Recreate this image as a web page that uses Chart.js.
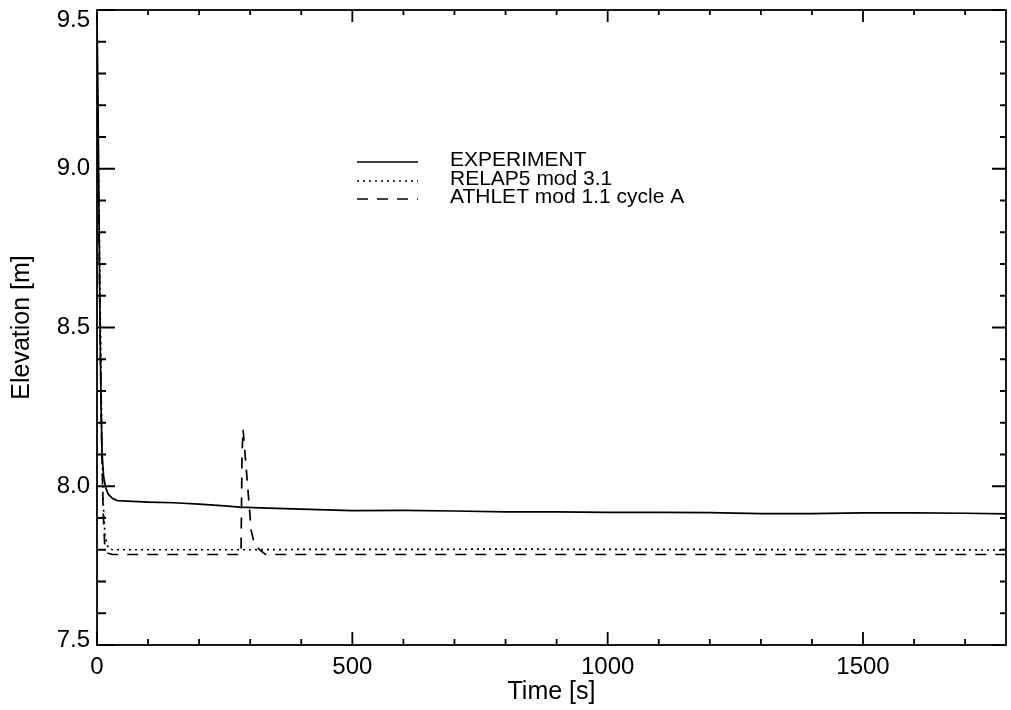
<!DOCTYPE html>
<html>
<head>
<meta charset="utf-8">
<script src="https://cdn.jsdelivr.net/npm/chart.js@4.4.1/dist/chart.umd.min.js"></script>
<style>
  html, body { margin: 0; padding: 0; background: #fff; }
  #wrap { width: 1011px; height: 710px; }
</style>
</head>
<body>
<div id="wrap"><canvas id="c" width="1011" height="710"></canvas></div>
<script>
// values
const expTime = [0, 2, 4, 6, 8, 10, 13, 17, 22, 30, 40, 60, 100, 150, 200, 250, 280, 320, 400, 500, 600, 700, 800, 900, 1000, 1100, 1200, 1300, 1400, 1500, 1600, 1700, 1780];
const expElev = [9.48, 9.20, 8.85, 8.50, 8.25, 8.10, 8.03, 7.995, 7.975, 7.962, 7.955, 7.953, 7.950, 7.948, 7.944, 7.938, 7.934, 7.932, 7.928, 7.923, 7.924, 7.922, 7.919, 7.919, 7.918, 7.918, 7.917, 7.914, 7.914, 7.916, 7.916, 7.915, 7.913];

const relapTime = [0, 3, 6, 9, 12, 16, 22, 30, 100, 200, 300, 400, 600, 800, 1000, 1200, 1400, 1600, 1780];
const relapElev = [9.40, 9.00, 8.60, 8.20, 7.95, 7.84, 7.805, 7.800, 7.800, 7.800, 7.800, 7.801, 7.801, 7.802, 7.801, 7.801, 7.800, 7.800, 7.799];

const athletTime = [0, 3, 6, 9, 12, 15, 20, 30, 100, 200, 282, 284, 286, 295, 302, 308, 318, 330, 400, 800, 1200, 1780];
const athletElev = [9.30, 8.90, 8.50, 8.15, 7.92, 7.82, 7.79, 7.785, 7.785, 7.785, 7.785, 8.10, 8.18, 8.00, 7.86, 7.82, 7.80, 7.785, 7.785, 7.785, 7.785, 7.785];

const seriesNames = ["EXPERIMENT", "RELAP5 mod 3.1", "ATHLET mod 1.1 cycle A"];

const xMajorTicks = [0, 500, 1000, 1500];
const xMinorTicks = [100, 200, 300, 400, 600, 700, 800, 900, 1100, 1200, 1300, 1400, 1600, 1700];
const yMajorTicks = [7.5, 8.0, 8.5, 9.0, 9.5];
const yMinorTicks = [7.6, 7.7, 7.8, 7.9, 8.1, 8.2, 8.3, 8.4, 8.6, 8.7, 8.8, 8.9, 9.1, 9.2, 9.3, 9.4];

const pts = (t, v) => t.map((x, i) => ({x: x, y: v[i]}));

const FONT = "'Liberation Sans', Arial, sans-serif";

// frame with inward ticks on all four sides, y labels and the legend
const frameAndLegend = {
  id: 'frameAndLegend',
  afterDatasetsDraw(chart) {
    const {ctx, chartArea: a, scales: {x, y}} = chart;
    ctx.save();
    ctx.strokeStyle = '#000';
    ctx.lineWidth = 1.8;
    ctx.setLineDash([]);
    ctx.strokeRect(a.left, a.top, a.right - a.left, a.bottom - a.top);

    ctx.beginPath();
    const xt = (list, lb, lt) => list.forEach(v => {
      const px = x.getPixelForValue(v);
      ctx.moveTo(px, a.bottom); ctx.lineTo(px, a.bottom - lb);
      ctx.moveTo(px, a.top); ctx.lineTo(px, a.top + lt);
    });
    const yt = (list, ll, lr) => list.forEach(v => {
      const py = y.getPixelForValue(v);
      ctx.moveTo(a.left, py); ctx.lineTo(a.left + ll, py);
      ctx.moveTo(a.right, py); ctx.lineTo(a.right - lr, py);
    });
    xt(xMajorTicks, 13, 12);
    xt(xMinorTicks, 6, 5);
    yt(yMajorTicks, 18, 14);
    yt(yMinorTicks, 9, 6);
    ctx.stroke();

    // y tick labels, end ones kept inside the frame height
    ctx.fillStyle = '#000';
    ctx.font = '24px ' + FONT;
    ctx.textAlign = 'right';
    ctx.textBaseline = 'middle';
    yMajorTicks.forEach(v => {
      const py = Math.min(Math.max(y.getPixelForValue(v), a.top + 10), a.bottom - 5);
      ctx.fillText(v.toFixed(1), a.left - 7, py);
    });

    // legend block
    const lx0 = a.left + 260, lx1 = a.left + 321, tx = a.left + 353;
    const rows = [a.top + 152, a.top + 171, a.top + 189];
    ctx.font = '21px ' + FONT;
    ctx.textAlign = 'left';
    ctx.textBaseline = 'alphabetic';
    chart.data.datasets.forEach((ds, i) => {
      ctx.lineWidth = 1.6;
      ctx.setLineDash(ds.borderDash || []);
      ctx.beginPath();
      ctx.moveTo(lx0, rows[i]);
      ctx.lineTo(lx1, rows[i]);
      ctx.stroke();
      ctx.fillText(ds.label, tx, rows[i] + 4);
    });
    ctx.restore();
  }
};

new Chart(document.getElementById('c'), {
  type: 'line',
  data: {
    datasets: [
      {label: seriesNames[0], data: pts(expTime, expElev), borderDash: []},
      {label: seriesNames[1], data: pts(relapTime, relapElev), borderDash: [2, 4]},
      {label: seriesNames[2], data: pts(athletTime, athletElev), borderDash: [11, 9]}
    ].map(d => Object.assign(d, {
      borderColor: '#000', borderWidth: 1.7, pointRadius: 0, tension: 0, fill: false
    }))
  },
  options: {
    responsive: false,
    devicePixelRatio: 1,
    animation: false,
    events: [],
    layout: {padding: {top: 10, right: 5, left: 0, bottom: 0}},
    plugins: {legend: {display: false}, tooltip: {enabled: false}},
    scales: {
      x: {
        type: 'linear', min: 0, max: 1780,
        grid: {display: false, drawTicks: false},
        border: {display: false},
        afterBuildTicks: s => { s.ticks = xMajorTicks.map(v => ({value: v})); },
        afterFit: s => { s.height = 65; s.paddingLeft = 0; s.paddingRight = 0; },
        ticks: {padding: 8, color: '#000', font: {family: FONT, size: 24}, callback: v => String(v)},
        title: {display: true, text: 'Time [s]', color: '#000', padding: {top: 0, bottom: 3}, font: {family: FONT, size: 25}}
      },
      y: {
        type: 'linear', min: 7.5, max: 9.5,
        grid: {display: false, drawTicks: false},
        border: {display: false},
        afterBuildTicks: s => { s.ticks = yMajorTicks.map(v => ({value: v})); },
        afterFit: s => { s.width = 97; s.paddingTop = 0; s.paddingBottom = 0; },
        ticks: {display: false},
        title: {display: true, text: 'Elevation [m]', color: '#000', padding: {top: 7, bottom: 0}, font: {family: FONT, size: 25}}
      }
    }
  },
  plugins: [frameAndLegend]
});
</script>
</body>
</html>
